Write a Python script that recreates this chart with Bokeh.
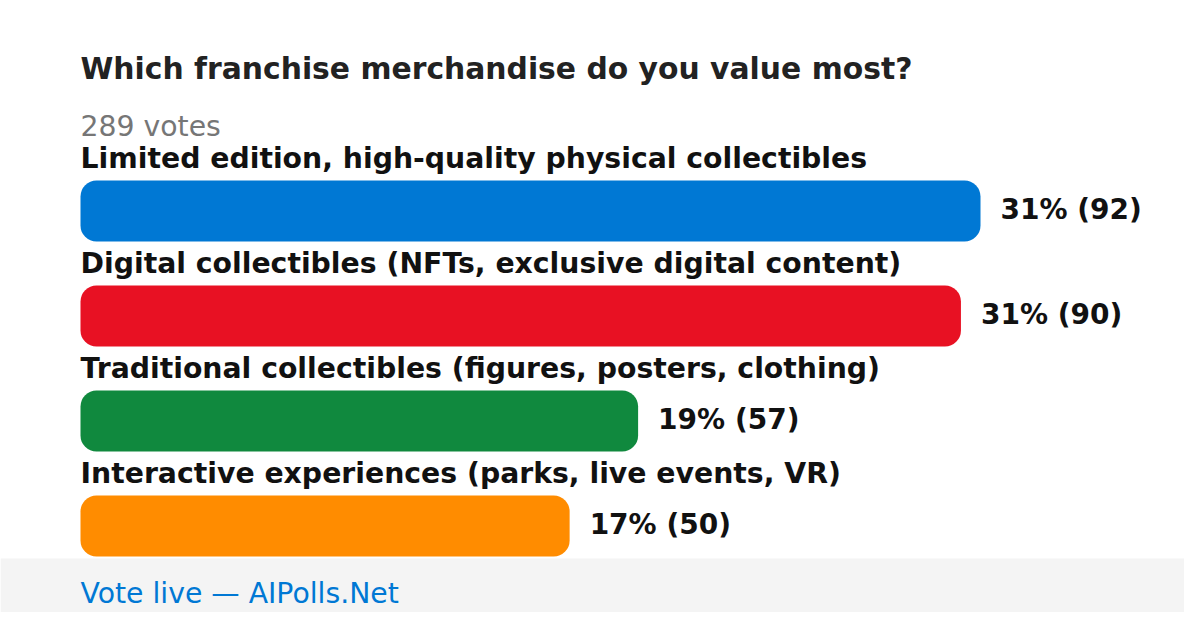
from bokeh.plotting import figure
from bokeh.models import Range1d, ColumnDataSource
from bokeh.core.properties import value
from bokeh.embed import file_html
from bokeh.resources import INLINE

# ---- data ----
title = "Which franchise merchandise do you value most?"
total_label = "289 votes"
categories = [
    "Limited edition, high-quality physical collectibles",
    "Digital collectibles (NFTs, exclusive digital content)",
    "Traditional collectibles (figures, posters, clothing)",
    "Interactive experiences (parks, live events, VR)",
]
votes = [92, 90, 57, 50]
percents = [31, 31, 19, 17]
colors = ["#0078d4", "#e81123", "#10893e", "#ff8c00"]
footer_text = "Vote live \u2014 AIPolls.Net"

# ---- layout (pixel space of the figure) ----
W, H = 1184, 612
LEFT = 80            # px where bars start
MAX_BAR = 900        # px width of the largest bar
ppv = MAX_BAR / max(votes)

x_start = -LEFT / ppv
x_end = (W - LEFT) / ppv

p = figure(width=W, height=H, output_backend="svg", toolbar_location=None,
           x_range=Range1d(x_start, x_end), y_range=Range1d(H, 0),
           x_axis_location=None, y_axis_location=None, min_border=0,
           background_fill_color="white", border_fill_color="white")
p.outline_line_color = None
p.grid.visible = False

FONT = value("DejaVu Sans")

row_centers = [210.5 + 105 * i for i in range(len(votes))]
src = ColumnDataSource(dict(
    y=row_centers,
    v=votes,
    color=colors,
    cat=categories,
    cat_y=[c - 53 for c in row_centers],
    val_y=[c - 2 for c in row_centers],
    val_txt=[f"{pc}% ({v})" for pc, v in zip(percents, votes)],
))

# footer band
p.quad(left=[x_start], right=[x_end], top=[558], bottom=[H],
       fill_color="#f4f4f4", line_color=None)

p.hbar(y="y", left=0, right="v", height=61, fill_color="color", line_color=None,
       border_radius=16, source=src)

p.text(x=0, y="cat_y", text="cat", source=src, text_font=FONT, text_font_style="bold",
       text_font_size="28.3px", text_color="#111111", text_baseline="middle")
p.text(x="v", y="val_y", text="val_txt", source=src, x_offset=20, text_font=FONT,
       text_font_style="bold", text_font_size="28px", text_color="#111111",
       text_baseline="middle")

p.text(x=[0], y=[68], text=[title], text_font=FONT, text_font_style="bold",
       text_font_size="29.8px", text_color="#222222", text_baseline="middle")
p.text(x=[0], y=[126], text=[total_label], text_font=FONT,
       text_font_size="28.3px", text_color="#767676", text_baseline="middle")

p.text(x=[0], y=[593], text=[footer_text], text_font=FONT,
       text_font_size="28.3px", text_color="#0078d4", text_baseline="middle")

open("out.html", "w").write(file_html(p, INLINE))
